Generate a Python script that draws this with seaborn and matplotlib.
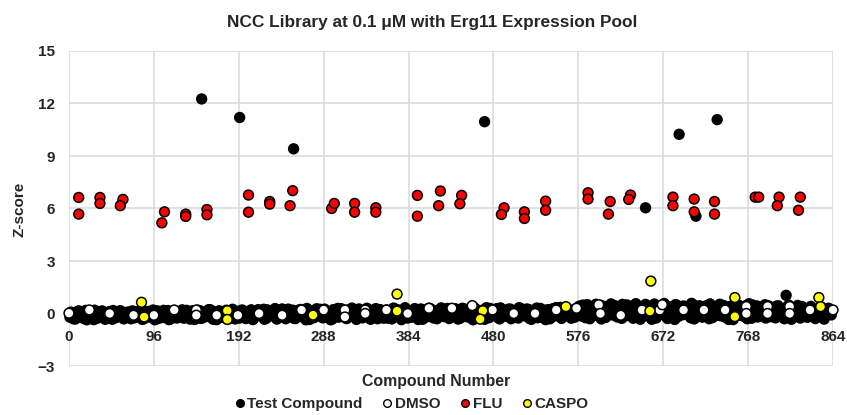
import numpy as np
import pandas as pd
import matplotlib
matplotlib.use('Agg')
import matplotlib.pyplot as plt
from matplotlib.lines import Line2D
import seaborn as sns

# test compounds near zero: compounds 1, 4, 7, ...
band_z = [
    -0.21, 0.05, -0.32, 0.12, -0.08, -0.27, 0.18, -0.15, 0.02, -0.35, 0.09, -0.19, 0.14, -0.28, -0.04, 0.11, -0.33, 0.06, -0.12, 0.16, -0.24, -0.02, 0.08, -0.30,
    0.13, -0.18, -0.06, 0.19, -0.29, 0.04, -0.14, 0.10, -0.36, 0.15, -0.09, -0.23, 0.07, 0.17, -0.31, -0.01, 0.12, -0.20, 0.03, -0.27, 0.18, -0.11, 0.09, -0.34,
    -0.05, 0.16, -0.25, 0.08, -0.17, 0.21, -0.33, 0.01, 0.13, -0.22, -0.07, 0.19, -0.30, 0.10, -0.13, 0.05, -0.26, 0.20, -0.03, -0.18, 0.14, -0.35, 0.07, 0.22,
    -0.16, 0.24, -0.28, 0.03, 0.17, -0.10, -0.32, 0.12, 0.26, -0.21, 0.06, -0.06, 0.19, -0.29, 0.09, 0.23, -0.14, -0.36, 0.15, 0.02, -0.24, 0.27, -0.09, 0.11,
    0.25, -0.19, 0.07, -0.31, 0.18, 0.29, -0.12, 0.04, -0.26, 0.21, -0.04, 0.13, -0.34, 0.26, 0.08, -0.17, 0.30, -0.23, 0.01, 0.16, -0.30, 0.22, -0.08, 0.12,
    -0.27, 0.19, 0.31, -0.11, 0.06, -0.35, 0.24, -0.02, 0.14, -0.21, 0.28, 0.09, -0.15, -0.33, 0.20, 0.03, 0.27, -0.25, 0.11, -0.06, 0.32, -0.18, 0.16, -0.29,
    0.23, -0.07, 0.12, -0.28, 0.30, 0.05, -0.20, 0.18, -0.36, 0.26, 0.00, -0.13, 0.21, 0.33, -0.24, 0.10, -0.04, 0.28, -0.31, 0.15, 0.07, -0.17, 0.25, -0.09,
    0.14, -0.26, 0.29, 0.02, -0.16, 0.22, -0.33, 0.11, 0.31, -0.08, -0.22, 0.19, 0.06, -0.30, 0.27, -0.12, 0.17, 0.35, -0.19, 0.04, 0.24, -0.27, 0.13, 0.30,
    0.42, -0.15, 0.28, 0.51, -0.30, 0.12, 0.36, -0.05, 0.47, 0.20, -0.22, 0.33, 0.55, -0.10, 0.08, 0.40, -0.28, 0.25, 0.49, 0.03, -0.18, 0.38, 0.15, -0.33,
    0.30, 0.52, -0.12, 0.18, 0.44, -0.26, 0.06, 0.35, 0.57, -0.20, 0.24, 0.10, -0.34, 0.46, 0.29, -0.07, 0.39, 0.14, -0.24, 0.50, 0.21, -0.14, 0.32, 0.04,
    0.45, -0.30, 0.17, 0.37, -0.09, 0.53, 0.26, -0.21, 0.09, 0.41, -0.35, 0.22, 0.48, 0.01, -0.16, 0.34, 0.56, -0.27, 0.13, 0.43, -0.04, 0.28, 0.50, -0.19,
    0.36, 0.07, -0.25, 0.44, 0.19, -0.12, 0.31, 0.48, -0.33, 0.11, 0.27, -0.06, 0.40, 0.16, -0.22, 0.33, 0.02, -0.29, 0.24, 0.38, -0.15, 0.12, 0.30, -0.08,
]
band_x = np.arange(1, 865, 3)

# test compounds near zero: compounds 2, 5, 8, ...
band2_z = [
    0.08, -0.30, -0.12, 0.15, -0.22, 0.01, -0.36, 0.10, -0.18, 0.19, -0.27, -0.05, 0.13, -0.33, 0.04, -0.16, 0.17, -0.24, -0.09, 0.11, -0.31, 0.06, -0.20, 0.14,
    -0.25, 0.02, 0.16, -0.34, -0.10, 0.12, -0.21, 0.20, -0.03, -0.29, 0.09, 0.18, -0.15, -0.35, 0.05, 0.14, -0.26, -0.07, 0.21, -0.17, 0.01, -0.32, 0.16, -0.04,
    0.19, -0.28, 0.04, -0.12, 0.22, -0.19, 0.09, -0.35, 0.15, 0.02, -0.24, 0.12, -0.08, 0.24, -0.31, 0.00, 0.17, -0.14, -0.29, 0.08, 0.21, -0.22, -0.01, 0.13,
    0.05, -0.33, 0.21, -0.15, 0.09, 0.28, -0.23, -0.02, 0.16, -0.30, 0.25, -0.11, -0.27, 0.07, 0.20, -0.18, 0.03, 0.29, -0.34, -0.05, 0.18, -0.13, 0.24, -0.25,
    -0.14, 0.10, -0.36, 0.22, -0.03, -0.21, 0.27, 0.14, -0.29, -0.07, 0.31, -0.16, 0.05, 0.19, -0.25, -0.01, 0.24, -0.33, 0.12, 0.28, -0.11, 0.03, -0.27, 0.20,
    0.07, -0.31, -0.05, 0.23, 0.15, -0.17, 0.33, -0.26, 0.04, 0.18, -0.10, -0.34, 0.26, 0.12, -0.20, 0.30, -0.08, 0.16, -0.30, 0.22, -0.14, 0.08, 0.29, -0.22,
    -0.12, 0.27, -0.32, 0.09, -0.18, 0.24, 0.01, -0.27, 0.34, 0.13, -0.19, 0.06, -0.33, 0.20, 0.29, -0.09, 0.16, -0.23, 0.32, 0.02, -0.14, 0.25, -0.30, 0.11,
    -0.20, 0.33, 0.07, -0.11, 0.26, -0.29, 0.17, 0.04, -0.24, 0.29, 0.12, -0.35, 0.22, 0.01, -0.15, 0.34, -0.06, -0.28, 0.19, 0.31, -0.10, 0.08, -0.21, 0.23,
    0.15, 0.48, -0.24, 0.06, 0.37, -0.12, 0.53, 0.22, -0.31, 0.41, 0.10, -0.06, 0.29, 0.45, -0.20, 0.18, 0.52, -0.14, 0.07, 0.34, -0.27, 0.56, 0.01, 0.26,
    -0.16, 0.41, 0.23, -0.33, 0.54, 0.13, -0.08, 0.47, 0.20, -0.29, 0.38, 0.02, 0.51, -0.17, 0.15, 0.43, -0.02, 0.27, 0.58, -0.31, 0.09, 0.44, -0.21, 0.36,
    0.12, 0.55, -0.23, 0.30, 0.04, -0.13, 0.46, 0.19, -0.34, 0.37, 0.07, 0.52, -0.10, 0.25, 0.42, -0.30, 0.16, 0.49, 0.00, -0.20, 0.35, 0.10, -0.26, 0.44,
    -0.18, 0.25, 0.42, -0.07, 0.14, -0.30, 0.37, 0.03, 0.22, -0.15, 0.46, -0.26, 0.09, 0.28, -0.11, 0.41, 0.18, -0.20, 0.06, 0.35, -0.32, 0.26, -0.02, 0.17,
]
band2_x = np.arange(2, 865, 3)

# test compound hits
hit_x = [150, 193, 254, 470, 652, 709, 690, 733, 811]
hit_z = [12.26, 11.2, 9.41, 10.96, 6.04, 5.56, 10.24, 11.08, 1.04]

dmso_x = [0, 23, 46, 73, 96, 119, 144, 144, 167, 191, 215, 241, 263, 288, 312, 312, 335, 335, 359, 383,
          407, 433, 456, 479, 503, 527, 551, 574, 599, 601, 624, 648, 668, 671, 695, 718, 742, 766, 766, 790,
          790, 815, 815, 838, 864]
dmso_z = [0.02, 0.2, 0.0, -0.1, -0.1, 0.2, 0.2, -0.1, -0.1, -0.1, 0.0, -0.1, 0.2, 0.2, 0.2, -0.2, 0.2, 0.0, 0.2, 0.0,
          0.3, 0.3, 0.45, 0.2, 0.0, 0.0, 0.2, 0.3, 0.5, 0.0, -0.1, 0.2, 0.2, 0.5, 0.2, 0.2, 0.2, 0.4, 0.0, 0.4,
          0.0, 0.4, 0.0, 0.2, 0.2]

flu_x = [11, 11, 35, 35, 61, 58, 105, 108, 132, 132, 156, 156, 203, 203, 227, 227, 253, 250, 297, 300,
         323, 323, 347, 347, 394, 394, 420, 418, 444, 442, 492, 489, 515, 515, 539, 539, 587, 587, 612, 610,
         635, 633, 683, 683, 707, 707, 730, 730, 776, 780, 803, 801, 827, 825]
flu_z = [6.63, 5.68, 6.63, 6.29, 6.52, 6.16, 5.18, 5.81, 5.68, 5.55, 5.94, 5.64, 6.77, 5.79, 6.4, 6.25, 7.02, 6.16, 6.0, 6.29,
         6.29, 5.79, 6.04, 5.79, 6.75, 5.56, 7.0, 6.16, 6.75, 6.27, 6.04, 5.66, 5.81, 5.43, 6.42, 5.9, 6.9, 6.54, 6.4, 5.68,
         6.77, 6.52, 6.65, 6.16, 6.54, 5.81, 6.4, 5.68, 6.65, 6.65, 6.65, 6.16, 6.65, 5.9]

caspo_x = [82, 85, 179, 179, 276, 371, 371, 468, 465, 562, 657, 658, 753, 753, 848, 850]
caspo_z = [0.64, -0.2, 0.16, -0.34, -0.09, 1.11, 0.14, 0.16, -0.32, 0.39, 0.14, 1.85, 0.91, -0.18, 0.91, 0.39]

groups = ['Test Compound', 'DMSO', 'FLU', 'CASPO']
colors = {'Test Compound': 'black', 'DMSO': 'white', 'FLU': '#ff0000', 'CASPO': '#ffff00'}

df = pd.concat([
    pd.DataFrame({'Compound': np.concatenate([band_x, band2_x, hit_x]),
                  'Z': band_z + band2_z + hit_z, 'Group': 'Test Compound'}),
    pd.DataFrame({'Compound': dmso_x, 'Z': dmso_z, 'Group': 'DMSO'}),
    pd.DataFrame({'Compound': flu_x, 'Z': flu_z, 'Group': 'FLU'}),
    pd.DataFrame({'Compound': caspo_x, 'Z': caspo_z, 'Group': 'CASPO'}),
], ignore_index=True)

sns.set_style('white')
plt.rcParams['font.family'] = ['Liberation Sans', 'DejaVu Sans']
plt.rcParams['font.weight'] = 'bold'

fig = plt.figure(figsize=(8.47, 4.15), dpi=100)
ax = fig.add_axes([69 / 847, 1 - 366 / 415, 764 / 847, 315 / 415])

sns.scatterplot(data=df, x='Compound', y='Z', hue='Group', palette=colors, hue_order=groups,
                s=50, edgecolor='black', linewidth=1.1, legend=False, ax=ax, clip_on=False, zorder=3)

ax.set_xlim(0, 864)
ax.set_ylim(-3, 15)
ax.set_xticks(np.arange(0, 865, 96))
ax.set_yticks(np.arange(-3, 16, 3))
ax.grid(True, color='#d9d9d9', linewidth=1.1)
ax.set_axisbelow(True)
for s in ['top', 'right', 'left']:
    ax.spines[s].set_visible(False)
ax.spines['bottom'].set_position(('data', 0))
ax.spines['bottom'].set_visible(False)
ax.tick_params(axis='x', length=0, pad=12, labelsize=11)
ax.tick_params(axis='y', length=0, pad=10, labelsize=11)
for lab in ax.get_xticklabels() + ax.get_yticklabels():
    lab.set_fontweight('bold')
ax.set_xlabel('')
ax.set_ylabel('')

fig.text(432 / 847, 1 - 22 / 415, 'NCC Library at 0.1 μM with Erg11 Expression Pool',
         ha='center', va='center', fontsize=12.4, fontweight='bold')
fig.text(436 / 847, 1 - 381 / 415, 'Compound Number', ha='center', va='center', fontsize=11.4, fontweight='bold')
fig.text(20 / 847, 1 - 209 / 415, 'Z-score', ha='center', va='center', rotation=90, fontsize=11, fontweight='bold')

handles = [Line2D([], [], marker='o', linestyle='', markersize=5.5, markerfacecolor=colors[g],
                  markeredgecolor='black', markeredgewidth=1.0) for g in groups]
fig.legend(handles, groups, loc='center', bbox_to_anchor=(411 / 847, 1 - 404 / 415), ncol=4,
           frameon=False, handletextpad=0.1, columnspacing=1.2, handlelength=0.8,
           prop={'weight': 'bold', 'size': 11}, borderaxespad=0)

fig.savefig('out.png', dpi=100)
